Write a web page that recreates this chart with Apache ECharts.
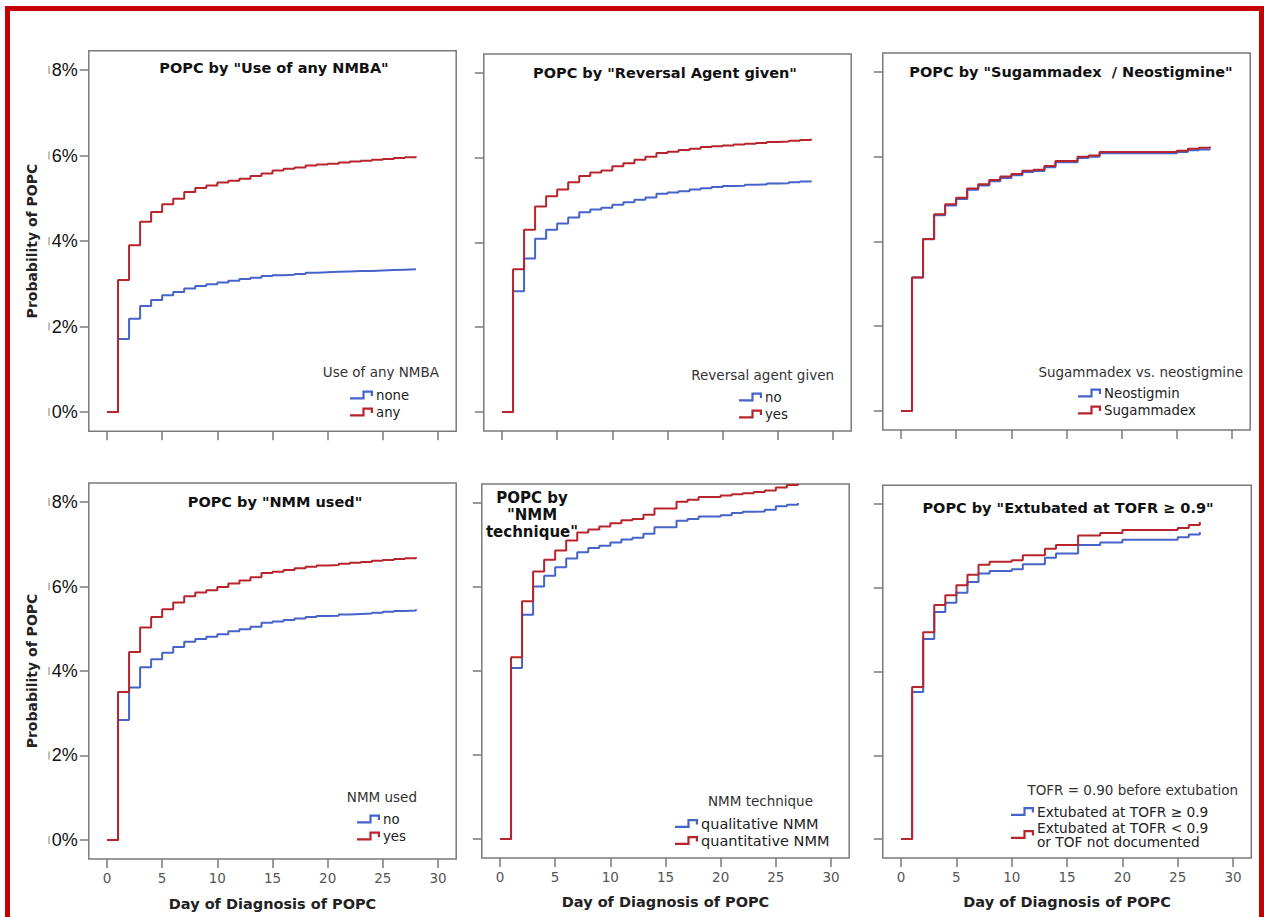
<!DOCTYPE html>
<html><head><meta charset="utf-8">
<script src="https://cdn.jsdelivr.net/npm/echarts@6/dist/echarts.min.js"></script>
<style>html,body{margin:0;padding:0;background:#fff;overflow:hidden}#c{width:1264px;height:917px}</style>
</head><body><div id="c"></div>
<script>
// ---------- DATA ----------
const days28 = [0,1,2,3,4,5,6,7,8,9,10,11,12,13,14,15,16,17,18,19,20,21,22,23,24,25,26,27,28];
const days27 = [0,1,2,3,4,5,6,7,8,9,10,11,12,13,14,15,16,17,18,19,20,21,22,23,24,25,26,27];
const xTicks = [0,5,10,15,20,25,30];
const yTicks = [0,2,4,6,8];

const panelTitles = [
  'POPC by "Use of any NMBA"',
  'POPC by "Reversal Agent given"',
  'POPC by "Sugammadex  / Neostigmine"',
  'POPC by "NMM used"',
  'POPC by\n"NMM\ntechnique"',
  'POPC by "Extubated at TOFR \u2265 0.9"'
];
const legendTitles = ['Use of any NMBA','Reversal agent given','Sugammadex vs. neostigmine','NMM used','NMM technique','TOFR = 0.90 before extubation'];
const groupNames = [
  ['none','any'],
  ['no','yes'],
  ['Neostigmin','Sugammadex'],
  ['no','yes'],
  ['qualitative NMM','quantitative NMM'],
  ['Extubated at TOFR \u2265 0.9','Extubated at TOFR < 0.9\nor TOF not documented']
];
const xTitle = 'Day of Diagnosis of POPC';
const yTitle = 'Probability of POPC';

// cumulative probability of POPC (%) per day
const nmbaNone = [0,1.71,2.18,2.48,2.62,2.73,2.81,2.89,2.95,2.99,3.03,3.07,3.11,3.14,3.18,3.20,3.21,3.23,3.26,3.27,3.28,3.29,3.30,3.30,3.31,3.32,3.33,3.34,3.35];
const nmbaAny  = [0,3.09,3.90,4.45,4.68,4.86,4.99,5.15,5.24,5.30,5.37,5.41,5.46,5.52,5.58,5.65,5.69,5.72,5.77,5.79,5.81,5.84,5.86,5.88,5.90,5.92,5.94,5.96,5.98];
const revNo    = [0,2.85,3.62,4.09,4.30,4.45,4.59,4.71,4.78,4.82,4.89,4.95,5.01,5.06,5.15,5.18,5.21,5.25,5.28,5.31,5.33,5.34,5.36,5.37,5.39,5.40,5.42,5.44,5.46];
const revYes   = [0,3.37,4.30,4.85,5.09,5.25,5.42,5.57,5.65,5.70,5.80,5.87,5.95,6.02,6.11,6.14,6.18,6.21,6.25,6.27,6.29,6.31,6.33,6.35,6.37,6.38,6.40,6.42,6.45];
const neostig  = [0,3.15,4.05,4.62,4.85,5.00,5.22,5.32,5.42,5.50,5.56,5.64,5.66,5.75,5.87,5.87,5.97,6.00,6.08,6.08,6.08,6.08,6.08,6.08,6.08,6.11,6.15,6.17,6.19];
const sugam    = [0,3.15,4.06,4.64,4.88,5.03,5.25,5.35,5.45,5.53,5.59,5.67,5.69,5.78,5.90,5.90,6.00,6.03,6.11,6.11,6.11,6.11,6.11,6.11,6.11,6.14,6.19,6.21,6.24];
const nmmNo    = [0,2.84,3.61,4.09,4.28,4.43,4.57,4.69,4.76,4.81,4.87,4.94,4.99,5.05,5.14,5.17,5.21,5.24,5.28,5.30,5.31,5.34,5.35,5.36,5.38,5.40,5.42,5.43,5.46];
const nmmYes   = [0,3.50,4.45,5.03,5.28,5.46,5.62,5.77,5.86,5.91,5.99,6.07,6.14,6.22,6.32,6.35,6.39,6.43,6.47,6.50,6.51,6.54,6.56,6.58,6.61,6.63,6.65,6.67,6.70];
const qualNMM  = [0,4.07,5.34,6.01,6.27,6.47,6.68,6.83,6.93,6.98,7.06,7.13,7.17,7.27,7.42,7.42,7.58,7.62,7.68,7.68,7.71,7.76,7.79,7.80,7.84,7.92,7.96,8.00];
const quantNMM = [0,4.33,5.66,6.37,6.65,6.87,7.11,7.30,7.37,7.44,7.52,7.59,7.62,7.72,7.87,7.87,8.03,8.08,8.14,8.14,8.18,8.21,8.23,8.26,8.30,8.37,8.43,8.46];
const tofGe09  = [0,3.51,4.78,5.42,5.64,5.88,6.14,6.34,6.40,6.40,6.44,6.56,6.56,6.72,6.82,6.82,7.02,7.02,7.08,7.08,7.15,7.15,7.15,7.15,7.15,7.21,7.27,7.33];
const tofLt09  = [0,3.63,4.94,5.59,5.82,6.06,6.31,6.55,6.62,6.62,6.66,6.78,6.78,6.93,7.02,7.02,7.25,7.25,7.31,7.31,7.38,7.38,7.38,7.38,7.38,7.43,7.50,7.57];

const panelData = [
  [days28, nmbaNone, nmbaAny],
  [days28, revNo, revYes],
  [days28, neostig, sugam],
  [days28, nmmNo, nmmYes],
  [days27, qualNMM, quantNMM],
  [days27, tofGe09, tofLt09]
];

// ---------- LAYOUT / STYLE ----------
const BLUE = '#4563c9', RED = '#b8242c';
const FONT = 'DejaVu Sans';
const grids = [
  {left: 88.8, top: 50.8, width: 367.4, height: 380.5},
  {left: 483.8, top: 53.9, width: 367.4, height: 377.1},
  {left: 882.8, top: 52.9, width: 367.4, height: 377.1},
  {left: 88.8, top: 483.0, width: 367.4, height: 376.0},
  {left: 481.8, top: 484.1, width: 367.4, height: 373.8},
  {left: 882.8, top: 485.2, width: 368.5, height: 372.7}
];
const titlePos = [[274,68,14.5],[665,73,14.5],[1071,72,14.5],[275,502,14.5],[532,515,15],[1068,508,14.5]];
const legTitlePos = [[439,372],[834,375],[1243,372],[417,797],[813,801],[1238,790]];
const legPos = [[350,387.5,13.3],[739,389.5,13.3],[1078,385.5,13.3],[357,811.5,13.3],[675,816,14.5],[1011,804.5,13.7]];

const ICON = 'path://M0,6.6L12.4,6.6L12.4,0L23,0L23,5.5L20.8,5.5L20.8,2.2L14.6,2.2L14.6,8.8L0,8.8Z';

function pts(days, vals) { return days.map((d, i) => [d, vals[i]]); }

const option = {
  backgroundColor: '#fff',
  animation: false,
  grid: grids.map(g => Object.assign({show: true, borderColor: '#7a7a7a', borderWidth: 1.5, backgroundColor: 'transparent'}, g)),
  xAxis: grids.map((g, i) => ({
    gridIndex: i, type: 'value', min: -1.65, max: 31.65, position: 'bottom',
    axisLine: {show: false, onZero: false},
    splitLine: {show: false},
    axisTick: {show: true, inside: false, customValues: xTicks, length: 9, lineStyle: {color: '#7a7a7a', width: 1.5}},
    axisLabel: {show: i >= 3, customValues: xTicks, margin: 12, color: '#555', fontFamily: FONT, fontSize: 13.5},
    name: i >= 3 ? xTitle : '',
    nameLocation: 'middle', nameGap: 37,
    nameTextStyle: {fontFamily: FONT, fontWeight: 'bold', fontSize: 14.5, color: '#222'}
  })),
  yAxis: grids.map((g, i) => ({
    gridIndex: i, type: 'value', min: -0.45, max: 8.45, position: 'left',
    axisLine: {show: false, onZero: false},
    splitLine: {show: false},
    axisTick: {show: true, inside: false, customValues: yTicks, length: 9, lineStyle: {color: '#7a7a7a', width: 1.5}},
    axisLabel: {
      show: i % 3 === 0, customValues: yTicks, margin: 11,
      formatter: v => '{b|}{t|' + v + '%}',
      rich: {
        b: {width: 1.5, height: 8, backgroundColor: '#aaa'},
        t: {fontFamily: 'Liberation Sans', fontSize: 18, color: '#111', padding: [0, 0, 0, 2]}
      }
    },
    name: i % 3 === 0 ? yTitle : '',
    nameLocation: 'middle', nameGap: 50, nameRotate: 90,
    nameTextStyle: {fontFamily: FONT, fontWeight: 'bold', fontSize: 14, color: '#222'}
  })),
  legend: legPos.map((p, i) => ({
    orient: 'vertical', left: p[0], top: p[1], padding: 0,
    itemWidth: 23, itemHeight: 9, itemGap: 2, icon: ICON,
    selectedMode: false,
    data: groupNames[i].map(n => ({name: n, icon: ICON})),
    textStyle: {fontFamily: FONT, fontSize: p[2], color: '#222', lineHeight: i === 5 ? 14 : 15, padding: [0, 0, 0, -2]}
  })),
  series: [],
  graphic: []
};

panelData.forEach((pd, i) => {
  [BLUE, RED].forEach((col, k) => {
    option.series.push({
      type: 'line', name: groupNames[i][k], xAxisIndex: i, yAxisIndex: i,
      step: 'end', symbol: 'none', data: pts(pd[0], pd[k + 1]),
      lineStyle: {color: col, width: 2}, itemStyle: {color: col},
      z: 2 + k
    });
  });
});

titlePos.forEach((p, i) => {
  option.graphic.push({
    type: 'text', x: p[0], y: p[1], z: 10,
    style: {text: panelTitles[i], fill: '#111', font: 'bold ' + p[2] + 'px "' + FONT + '"',
            textAlign: 'center', textVerticalAlign: 'middle', lineHeight: 17}
  });
});
legTitlePos.forEach((p, i) => {
  option.graphic.push({
    type: 'text', x: p[0], y: p[1], z: 10,
    style: {text: legendTitles[i], fill: '#333', font: '13.5px "' + FONT + '"',
            textAlign: 'right', textVerticalAlign: 'middle'}
  });
});
// red frame around the figure
option.graphic.push({
  type: 'rect', z: 20, silent: true,
  shape: {x: 7.5, y: 8.5, width: 1254, height: 960},
  style: {fill: 'none', stroke: '#c40000', lineWidth: 5}
});

const chart = echarts.init(document.getElementById('c'), null, {renderer: 'svg', width: 1264, height: 917});
chart.setOption(option);
</script>
</body></html>
